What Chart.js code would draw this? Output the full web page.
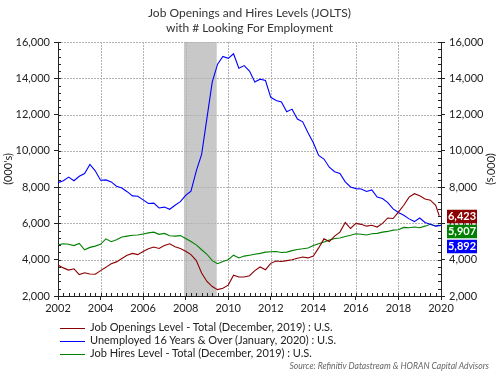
<!DOCTYPE html>
<html>
<head>
<meta charset="utf-8">
<script src="https://cdn.jsdelivr.net/npm/chart.js@4.4.1/dist/chart.umd.min.js"></script>
<style>
  body { margin: 0; background: #fff; }
  #wrap { position: relative; width: 499px; height: 374px; font-family: Lato, sans-serif; color: #222; }
  #chart { position: absolute; left: 0; top: 0; }
  .title { position: absolute; left: 0; width: 499px; text-align: center; font-size: 12px; color: #333; line-height: 15px; }
  .legend { position: absolute; left: 60px; font-size: 11px; line-height: 13px; }
  .legend div { height: 13px; white-space: nowrap; }
  .legend span { display: inline-block; width: 25px; height: 0; border-top: 1.5px solid; vertical-align: middle; margin-right: 5px; }
  .source { position: absolute; right: 10px; top: 361px; font-size: 8.6px; font-style: italic; color: #666; }
</style>
</head>
<body>
<div id="wrap">
  <canvas id="chart" width="499" height="374"></canvas>
  <div class="title" style="top:5px">Job Openings and Hires Levels (JOLTS)<br>with # Looking For Employment</div>
  <div class="legend" style="top:320px">
    <div><span style="border-color:#8b0000"></span>Job Openings Level - Total (December, 2019) : U.S.</div>
    <div><span style="border-color:#0000ff"></span>Unemployed 16 Years &amp; Over (January, 2020) : U.S.</div>
    <div><span style="border-color:#008000"></span>Job Hires Level - Total (December, 2019) : U.S.</div>
  </div>
  <div class="source">Source: Refinitiv Datastream &amp; HORAN Capital Advisors</div>
</div>
<script>
// quarterly readings, Q1 2002 .. Q1 2020 (thousands)
const startYear = 2002;
const quarters = Array.from({ length: 73 }, (_, i) => startYear + i / 4);
const joltsDates = quarters.slice(0, -1).concat([2019 + 11 / 12]); // JOLTS ends Dec 2019

const unemployed = [
  8250, 8350, 8550, 8350, 8600, 8750, 9250, 8900,
  8380, 8400, 8290, 8050, 7950, 7750, 7520, 7500,
  7300, 7100, 7120, 6850, 6900, 6780, 7000, 7200,
  7550, 7780, 8900, 9800, 11800, 13800, 14780, 15200,
  15100, 15350, 14550, 14700, 14400, 13800, 13950, 13880,
  12950, 12780, 12700, 12150, 12300, 11750, 11600, 11000,
  10450, 9750, 9550, 9100, 8850, 8750, 8290, 8010,
  7920, 7900, 7760, 7850, 7450, 7370, 7150, 6800,
  6600, 6450, 6250, 6100, 6300, 6050, 5950, 5850,
  5892
];
const openings = [
  3705, 3550, 3430, 3500, 3180, 3280, 3210, 3200,
  3400, 3580, 3780, 3880, 4070, 4250, 4350, 4280,
  4450, 4600, 4700, 4620, 4780, 4880, 4720, 4620,
  4470, 4280, 3950, 3270, 2800, 2520, 2350, 2430,
  2600, 3150, 3050, 3050, 3120, 3400, 3600, 3450,
  3800, 3930, 3900, 3950, 4000, 4080, 4150, 4100,
  4200, 4650, 5150, 5000, 5300, 5520, 6050, 5720,
  6000, 5950, 5850, 5900, 5800, 6000, 6300, 6270,
  6620, 7000, 7450, 7640, 7520, 7350, 7280, 7000,
  6423
];
const hires = [
  4820, 4880, 4850, 4780, 4900, 4550, 4680, 4750,
  4850, 5150, 4990, 5100, 5250, 5300, 5350, 5360,
  5420, 5480, 5520, 5400, 5450, 5320, 5300, 5330,
  5170, 5000, 4820, 4550, 4300, 3950, 3780, 3900,
  4000, 4250, 4100, 4200, 4250, 4300, 4350, 4420,
  4440, 4450, 4400, 4420, 4500, 4560, 4600, 4650,
  4780, 4880, 4980, 5080, 5170, 5200, 5280, 5350,
  5430, 5400, 5360, 5430, 5450, 5520, 5560, 5630,
  5650, 5780, 5760, 5800, 5760, 5850, 5950, 5860,
  5907
];

const xTicks = [2002, 2004, 2006, 2008, 2010, 2012, 2014, 2016, 2018, 2020];
const yTicks = [2000, 4000, 6000, 8000, 10000, 12000, 14000, 16000];
const recession = [2007.92, 2009.46];

const RED = '#8b0000', BLUE = '#0000ff', GREEN = '#008000';
const FONT = { family: 'Lato, sans-serif', size: 11 };
const GRID = '#b4b4b4';

const toPoints = (dates, values) => values.map((v, i) => ({ x: dates[i], y: v }));

// grey recession band, drawn under the grid
const recessionBand = {
    id: 'recessionBand',
    beforeDraw(chart) {
        const { ctx, chartArea: a, scales } = chart;
        const x0 = scales.x.getPixelForValue(recession[0]);
        const x1 = scales.x.getPixelForValue(recession[1]);
        ctx.save();
        ctx.fillStyle = '#c8c8c8';
        ctx.fillRect(x0, a.top, x1 - x0, a.bottom - a.top);
        ctx.restore();
    }
};

// dotted grid + small inward ticks between the labelled ones
const gridAndTicks = {
    id: 'gridAndTicks',
    beforeDatasetsDraw(chart) {
        const { ctx, chartArea: a, scales } = chart;
        ctx.save();
        ctx.strokeStyle = GRID;
        ctx.lineWidth = 1;
        ctx.setLineDash([2, 1]);
        ctx.beginPath();
        yTicks.slice(1).forEach(v => {
            const y = Math.round(scales.y.getPixelForValue(v)) + 0.5;
            ctx.moveTo(a.left, y); ctx.lineTo(a.right, y);
        });
        xTicks.slice(1, -1).forEach(v => {
            const x = Math.round(scales.x.getPixelForValue(v)) + 0.5;
            ctx.moveTo(x, a.top); ctx.lineTo(x, a.bottom);
        });
        ctx.stroke();
        ctx.restore();
    },
    afterDatasetsDraw(chart) {
        const { ctx, chartArea: a, scales } = chart;
        ctx.save();
        ctx.strokeStyle = '#222';
        ctx.lineWidth = 1;
        ctx.beginPath();
        for (let v = yTicks[0]; v <= yTicks[yTicks.length - 1]; v += 400) {
            const y = Math.round(scales.y.getPixelForValue(v)) + 0.5;
            ctx.moveTo(a.left, y); ctx.lineTo(a.left + 3, y);
            ctx.moveTo(a.right, y); ctx.lineTo(a.right - 3, y);
        }
        for (let v = xTicks[0]; v <= xTicks[xTicks.length - 1]; v += 0.25) {
            const x = Math.round(scales.x.getPixelForValue(v)) + 0.5;
            ctx.moveTo(x, a.bottom); ctx.lineTo(x, a.bottom - 3);
        }
        ctx.stroke();
        ctx.restore();
    }
};

// last-value boxes on the right axis
const endLabels = {
    id: 'endLabels',
    afterDraw(chart) {
        const { ctx, chartArea: a, scales } = chart;
        const items = [
            { v: openings[openings.length - 1], c: RED },
            { v: hires[hires.length - 1], c: GREEN },
            { v: unemployed[unemployed.length - 1], c: BLUE }
        ];
        const top = scales.y2.getPixelForValue(items[0].v) - 6;
        ctx.save();
        ctx.font = 'bold 11px Lato, sans-serif';
        ctx.textAlign = 'center';
        ctx.textBaseline = 'middle';
        items.forEach((it, k) => {
            const y = top + k * 15;
            ctx.fillStyle = it.c;
            ctx.fillRect(a.right + 6, y, 30, 13.5);
            ctx.fillStyle = '#fff';
            ctx.fillText(it.v.toLocaleString('en-US'), a.right + 21, y + 7);
        });
        ctx.restore();
    }
};

const yScale = (position) => ({
    position,
    min: 2000,
    max: 16000,
    afterBuildTicks: s => { s.ticks = yTicks.map(v => ({ value: v })); },
    afterFit: s => { s.width = 58; },
    ticks: { color: '#222', font: FONT, padding: 4, callback: v => v.toLocaleString('en-US') },
    grid: { drawOnChartArea: false, color: '#222', tickLength: 4 },
    border: { display: true, color: '#222', width: 1 },
    title: { display: true, text: "(000's)", color: '#222', font: FONT, padding: 2 }
});

new Chart(document.getElementById('chart'), {
    type: 'line',
    data: {
        datasets: [
            { label: 'Job Openings Level - Total (December, 2019) : U.S.', data: toPoints(joltsDates, openings), borderColor: RED, yAxisID: 'y' },
            { label: 'Unemployed 16 Years & Over (January, 2020) : U.S.', data: toPoints(quarters, unemployed), borderColor: BLUE, yAxisID: 'y' },
            { label: 'Job Hires Level - Total (December, 2019) : U.S.', data: toPoints(joltsDates, hires), borderColor: GREEN, yAxisID: 'y' }
        ]
    },
    options: {
        responsive: false,
        animation: false,
        layout: { padding: { left: 0, right: 0, top: 42, bottom: 58 } },
        elements: { point: { radius: 0 }, line: { borderWidth: 1.1, tension: 0 } },
        plugins: { legend: { display: false }, tooltip: { enabled: false } },
        scales: {
            x: {
                type: 'linear',
                min: 2002,
                max: 2020,
                afterBuildTicks: s => { s.ticks = xTicks.map(v => ({ value: v })); },
                afterFit: s => { s.height = 20; },
                ticks: { color: '#222', font: FONT, padding: 2, maxRotation: 0, callback: v => String(v) },
                grid: { drawOnChartArea: false, color: '#222', tickLength: 4 },
                border: { display: true, color: '#222', width: 1 }
            },
            y: yScale('left'),
            y2: yScale('right')
        }
    },
    plugins: [recessionBand, gridAndTicks, endLabels]
});
</script>
</body>
</html>
